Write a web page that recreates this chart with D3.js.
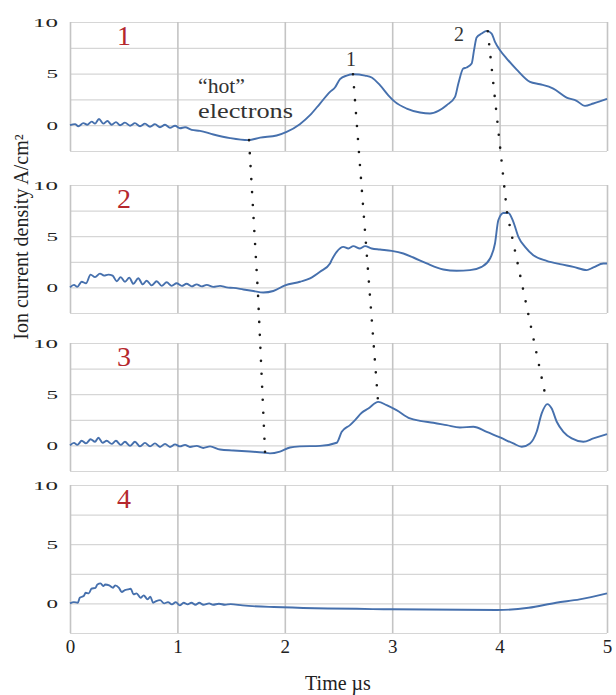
<!DOCTYPE html>
<html>
<head>
<meta charset="utf-8">
<script src="https://cdn.jsdelivr.net/npm/d3@7"></script>
<style>
  body { margin: 0; background: #fff; }
  text { font-family: "Liberation Serif", "Times New Roman", serif; }
</style>
</head>
<body>
<svg id="chart" width="616" height="695"></svg>
<script>
// time axis (µs) and current density grid (A/cm²)
const timeTicks = [0, 1, 2, 3, 4, 5];
const yTicks = [0, 5, 10];
const gridValues = [-2.5, 0, 2.5, 5, 7.5, 10];
const panelLabels = ['1', '2', '3', '4'];

// [time µs, ion current density A/cm²]
const trace1 = [[0,0],[0.047,0.1],[0.078,-0.1],[0.124,0.2],[0.161,0.05],[0.202,0.35],[0.233,0.15],[0.27,0.6],[0.31,0.15],[0.348,0.4],[0.388,0.05],[0.428,0.3],[0.466,0],[0.512,0.25],[0.559,-0.05],[0.605,0.2],[0.652,-0.1],[0.698,0.15],[0.745,-0.15],[0.791,0.1],[0.838,-0.2],[0.885,0.05],[0.931,-0.25],[0.978,-0.05],[1.024,-0.3],[1.071,-0.2],[1.133,-0.45],[1.21,-0.55],[1.335,-0.9],[1.49,-1.25],[1.66,-1.45],[1.77,-1.2],[1.924,-1.0],[2.017,-0.65],[2.14,0.1],[2.235,0.97],[2.328,2.1],[2.421,3.23],[2.467,3.65],[2.514,4.46],[2.576,4.81],[2.638,4.94],[2.747,4.81],[2.809,4.62],[2.886,3.88],[2.964,2.9],[3.026,2.26],[3.135,1.61],[3.259,1.23],[3.352,1.13],[3.43,1.39],[3.507,1.94],[3.585,2.75],[3.616,4.04],[3.662,5.49],[3.693,5.59],[3.74,5.98],[3.762,7.27],[3.786,8.49],[3.833,8.88],[3.88,9.14],[3.926,8.88],[3.957,8.07],[4.004,7.27],[4.066,6.46],[4.159,5.39],[4.283,4.2],[4.376,3.97],[4.5,3.55],[4.624,2.68],[4.717,2.36],[4.795,1.87],[4.873,2.1],[5.0,2.55]];

const trace2 = [[0,0],[0.037,0.25],[0.068,0.05],[0.109,0.55],[0.149,0.4],[0.192,1.25],[0.233,1.0],[0.279,1.35],[0.317,1.15],[0.357,1.25],[0.397,1.15],[0.435,0.6],[0.472,1.0],[0.512,0.55],[0.552,0.95],[0.59,0.35],[0.636,0.9],[0.677,0.3],[0.714,0.65],[0.76,0.2],[0.807,0.6],[0.854,0.15],[0.9,0.5],[0.947,0.15],[0.993,0.4],[1.04,0.15],[1.086,0.35],[1.133,0.1],[1.179,0.3],[1.226,0.1],[1.273,0.25],[1.335,0.05],[1.397,0.15],[1.459,0],[1.521,-0.05],[1.614,-0.2],[1.707,-0.35],[1.8,-0.5],[1.893,-0.35],[2.002,0.2],[2.142,0.55],[2.235,0.88],[2.328,1.53],[2.421,2.34],[2.436,2.66],[2.483,3.47],[2.545,3.96],[2.592,3.8],[2.638,4.03],[2.7,3.8],[2.747,4.03],[2.809,3.8],[2.886,3.7],[2.995,3.57],[3.104,3.31],[3.197,2.92],[3.321,2.34],[3.476,1.75],[3.6,1.62],[3.724,1.69],[3.833,2.01],[3.911,2.82],[3.957,4.29],[3.988,6.56],[4.035,7.27],[4.082,7.27],[4.128,6.4],[4.175,4.94],[4.237,3.96],[4.314,3.15],[4.438,2.6],[4.562,2.27],[4.687,2.01],[4.811,1.69],[4.873,1.95],[4.966,2.34],[5.0,2.34]];

const trace3 = [[0,0],[0.037,0.25],[0.068,0.05],[0.109,0.45],[0.149,0.2],[0.192,0.6],[0.233,0.35],[0.264,0.75],[0.304,0.25],[0.342,0.45],[0.388,0.15],[0.428,0.45],[0.472,0.05],[0.512,0.35],[0.559,-0.05],[0.605,0.35],[0.652,-0.1],[0.698,0.25],[0.745,-0.1],[0.791,0.2],[0.838,-0.15],[0.885,0.15],[0.931,-0.15],[0.978,0.1],[1.024,-0.1],[1.071,0.05],[1.117,-0.15],[1.179,-0.05],[1.241,-0.25],[1.304,-0.1],[1.397,-0.4],[1.521,-0.5],[1.676,-0.6],[1.8,-0.7],[1.862,-0.78],[1.955,-0.6],[2.048,-0.2],[2.14,-0.1],[2.328,-0.05],[2.483,0.26],[2.53,1.33],[2.607,1.98],[2.654,2.47],[2.716,3.18],[2.778,3.6],[2.87,4.25],[2.948,3.93],[3.04,3.44],[3.166,2.63],[3.259,2.4],[3.383,2.21],[3.507,1.98],[3.631,1.75],[3.755,1.82],[3.88,1.33],[4.004,0.78],[4.128,0.19],[4.206,-0.13],[4.283,0.19],[4.345,1.33],[4.392,3.12],[4.445,4.03],[4.485,3.6],[4.532,2.31],[4.594,1.33],[4.672,0.68],[4.78,0.36],[4.873,0.68],[5.0,1.1]];

const trace4 = [[0,0],[0.036,0.11],[0.073,0.06],[0.091,0.48],[0.128,0.62],[0.146,0.9],[0.175,0.85],[0.2,1.24],[0.237,1.32],[0.255,1.6],[0.285,1.69],[0.31,1.46],[0.328,1.6],[0.365,1.52],[0.401,1.32],[0.42,1.52],[0.456,1.32],[0.482,0.96],[0.511,1.13],[0.54,1.18],[0.566,1.24],[0.591,0.76],[0.62,0.85],[0.657,0.48],[0.686,0.68],[0.723,0.34],[0.748,0.56],[0.774,0.06],[0.803,0.2],[0.839,0.28],[0.876,0],[0.912,0.11],[0.949,-0.08],[0.985,0.11],[1.022,-0.17],[1.058,0.06],[1.095,-0.08],[1.131,0.06],[1.168,-0.11],[1.204,0.06],[1.241,-0.11],[1.296,0],[1.332,-0.11],[1.387,-0.03],[1.442,-0.11],[1.496,-0.06],[1.606,-0.17],[1.898,-0.31],[2.993,-0.5],[3.978,-0.56],[4.27,-0.37],[4.526,0.06],[4.745,0.34],[5.0,0.85]];

const traces = [trace1, trace2, trace3, trace4];

// dotted guides following the features from panel to panel
const hotGuide = [{panel: 0, t: 1.667, v: -1.45}, {panel: 1, t: 1.75, v: -0.56}, {panel: 2, t: 1.816, v: -0.65}];
const peak1Guide = [{panel: 0, t: 2.635, v: 4.94}, {panel: 2, t: 2.868, v: 4.3}];
const peak2Guide = [{panel: 0, t: 3.89, v: 9.1}, {panel: 1, t: 4.07, v: 7.24}, {panel: 2, t: 4.44, v: 4.2}];

// layout
const svg = d3.select('#chart');
const x = d3.scaleLinear().domain([0, 5]).range([70, 607]);
const panelBox = [[22, 151], [185, 313], [343, 471], [485, 633]];
const ys = panelBox.map(([top, bottom]) => d3.scaleLinear().domain([-2.5, 10]).range([bottom, top]));
const plotW = x(5) - x(0);

const gridG = svg.append('g');
const lineG = svg.append('g');
const guideG = svg.append('g');
const textG = svg.append('g');

panelBox.forEach(([top, bottom], i) => {
    let y = ys[i];
    // horizontal grid
    let hg = gridG.append('g')
        .attr('transform', 'translate(' + x(0) + ',0)')
        .call(d3.axisLeft(y).tickValues(gridValues).tickSize(-plotW).tickFormat(''));
    hg.select('.domain').remove();
    hg.selectAll('line').attr('stroke', '#d6d6d6').attr('stroke-width', 1.2);

    // vertical grid
    let vg = gridG.append('g')
        .attr('transform', 'translate(0,' + bottom + ')')
        .call(d3.axisBottom(x).tickValues(timeTicks).tickSize(-(bottom - top)).tickFormat(''));
    vg.select('.domain').remove();
    vg.selectAll('line').attr('stroke', '#c4c4c4').attr('stroke-width', 1.6);

    // y tick labels
    let yl = textG.append('g')
        .attr('transform', 'translate(' + x(0) + ',0)')
        .call(d3.axisLeft(y).tickValues(yTicks).tickSize(0).tickPadding(12));
    yl.select('.domain').remove();
    yl.selectAll('text')
        .attr('fill', '#222')
        .attr('font-size', 13)
        .attr('font-family', '"Liberation Serif", serif')
        .attr('textLength', d => d >= 10 ? 25 : 11.5)
        .attr('lengthAdjust', 'spacingAndGlyphs');

    // panel number
    textG.append('text')
        .attr('x', 124)
        .attr('y', top + 23)
        .attr('text-anchor', 'middle')
        .attr('font-size', 28)
        .attr('fill', '#b5272d')
        .text(panelLabels[i]);

    lineG.append('path')
        .datum(traces[i])
        .attr('fill', 'none')
        .attr('stroke', '#4670ad')
        .attr('stroke-width', 1.9)
        .attr('stroke-linejoin', 'round')
        .attr('d', d3.line().x(d => x(d[0])).y(d => y(d[1])).curve(d3.curveMonotoneX));
});

// x tick labels under the last panel
let xl = textG.append('g')
    .attr('transform', 'translate(0,' + panelBox[3][1] + ')')
    .call(d3.axisBottom(x).tickValues(timeTicks).tickSize(0).tickPadding(7).tickFormat(d3.format('d')));
xl.select('.domain').remove();
xl.selectAll('text')
    .attr('fill', '#222')
    .attr('font-size', 19)
    .attr('font-family', '"Liberation Serif", serif');

// dotted guides
let guideLine = d3.line().x(p => x(p.t)).y(p => ys[p.panel](p.v));
[hotGuide, peak1Guide, peak2Guide].forEach(g => {
    guideG.append('path')
        .attr('d', guideLine(g))
        .attr('fill', 'none')
        .attr('stroke', '#1a1a1a')
        .attr('stroke-width', 2.6)
        .attr('stroke-linecap', 'round')
        .attr('stroke-dasharray', '0,13');
});

// annotations
textG.append('text').attr('x', 198).attr('y', 93).attr('font-size', 22).attr('fill', '#333')
    .attr('textLength', 47).attr('lengthAdjust', 'spacingAndGlyphs').text('\u201chot\u201d');
textG.append('text').attr('x', 198).attr('y', 118).attr('font-size', 22).attr('fill', '#333')
    .attr('textLength', 95).attr('lengthAdjust', 'spacingAndGlyphs').text('electrons');
textG.append('text').attr('x', 351).attr('y', 66).attr('text-anchor', 'middle').attr('font-size', 20).attr('fill', '#333').text('1');
textG.append('text').attr('x', 459).attr('y', 41).attr('text-anchor', 'middle').attr('font-size', 20).attr('fill', '#333').text('2');

// axis titles
textG.append('text')
    .attr('transform', 'translate(28,237) rotate(-90)')
    .attr('text-anchor', 'middle')
    .attr('font-size', 20)
    .attr('fill', '#222')
    .text('Ion current density A/cm\u00b2');

textG.append('text')
    .attr('x', 338)
    .attr('y', 690)
    .attr('text-anchor', 'middle')
    .attr('font-size', 20)
    .attr('fill', '#222')
    .text('Time \u00b5s');
</script>
</body>
</html>
